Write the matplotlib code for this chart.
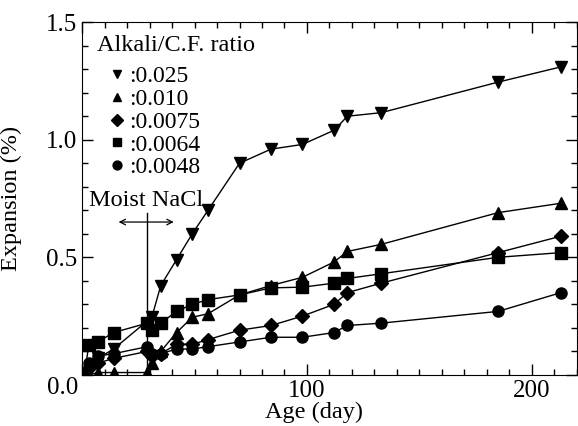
import matplotlib.pyplot as plt
from matplotlib.ticker import MultipleLocator

plt.rcParams['font.family'] = ['Liberation Serif', 'DejaVu Serif']
plt.rcParams['mathtext.fontset'] = 'stix'

# Data (age in days, expansion in %)
days_025 = [1, 7, 14, 31, 35, 42, 49, 56, 70, 84, 98, 112, 118, 133, 185, 213]
exp_025 = [0.01, 0.07, 0.11, 0.245, 0.38, 0.49, 0.60, 0.70, 0.90, 0.96, 0.98,
           1.04, 1.10, 1.115, 1.245, 1.31]

days = [1, 3, 7, 14, 29, 31, 35, 42, 49, 56, 70, 84, 98, 112, 118, 133, 185, 213]
exp_010 = [0.0, 0.0, 0.01, 0.01, 0.01, 0.05, 0.10, 0.18, 0.245, 0.26, 0.34,
           0.38, 0.415, 0.48, 0.525, 0.555, 0.69, 0.73]
exp_0075 = [0.0, 0.03, 0.05, 0.07, 0.10, 0.08, 0.09, 0.13, 0.13, 0.15, 0.19,
            0.21, 0.25, 0.30, 0.35, 0.39, 0.52, 0.59]
exp_0064 = [0.0, 0.127, 0.14, 0.18, 0.22, 0.19, 0.22, 0.27, 0.30, 0.32, 0.34,
            0.37, 0.373, 0.39, 0.41, 0.43, 0.50, 0.52]
exp_0048 = [0.0, 0.05, 0.08, 0.09, 0.12, 0.09, 0.09, 0.11, 0.11, 0.12, 0.14,
            0.16, 0.16, 0.18, 0.21, 0.22, 0.27, 0.35]

labels = [':0.025', ':0.010', ':0.0075', ':0.0064', ':0.0048']

fig = plt.figure(figsize=(5.78, 4.26), dpi=100)
ax = fig.add_axes([0.142, 0.12, 0.856, 0.828])

ax.plot(days_025, exp_025, 'v-', color='black', ms=8, lw=1, label=labels[0])
ax.plot(days, exp_010, '^-', color='black', ms=8, lw=1, label=labels[1])
ax.plot(days, exp_0075, 'D-', color='black', ms=7.5, lw=1, label=labels[2])
ax.plot(days, exp_0064, 's-', color='black', ms=8, lw=1, label=labels[3])
ax.plot(days, exp_0048, 'o-', color='black', ms=8, lw=1, label=labels[4])

# moist NaCl period marker
ax.plot([29, 29], [0, 0.69], color='black', lw=1)
ax.annotate('', xy=(15, 0.65), xytext=(42, 0.65),
            arrowprops=dict(arrowstyle='<->', color='black', lw=0.9))
ax.text(3, 0.74, 'Moist NaCl', fontsize=17.5, va='center', ha='left')

ax.set_xlim(0, 220)
ax.set_ylim(0, 1.5)
ax.xaxis.set_major_locator(MultipleLocator(100))
ax.xaxis.set_minor_locator(MultipleLocator(10))
ax.yaxis.set_major_locator(MultipleLocator(0.5))
ax.yaxis.set_minor_locator(MultipleLocator(0.1))
ax.tick_params(which='both', direction='in', top=True, right=True, labelsize=18)
ax.tick_params(which='major', length=8, width=1)
ax.tick_params(which='minor', length=4, width=1)
ax.set_xticks([0, 100, 200], ['', '100', '200'])
ax.set_yticks([0, 0.5, 1.0, 1.5], ['', '0.5', '1.0', '1.5'])
ax.text(-0.008, -0.037, '0.0', transform=ax.transAxes, ha='right', va='center',
        fontsize=18)

ax.set_xlabel('Age (day)', fontsize=17.5)
ax.xaxis.set_label_coords(0.469, -0.077)
ax.set_ylabel('Expansion (%)', fontsize=17.5)
ax.yaxis.set_label_coords(-0.121, 0.5)

ax.text(0.030, 0.935, 'Alkali/C.F. ratio', transform=ax.transAxes,
        fontsize=17.5, ha='left', va='center')
leg = ax.legend(loc='upper left', bbox_to_anchor=(0.057, 0.876), frameon=False,
                fontsize=17, handlelength=0.6, handletextpad=0.2,
                labelspacing=0.05, numpoints=1, borderpad=0, borderaxespad=0,
                markerscale=0.8)
for h in leg.legend_handles:
    h.set_linestyle('none')

fig.savefig('out.png', dpi=100)
